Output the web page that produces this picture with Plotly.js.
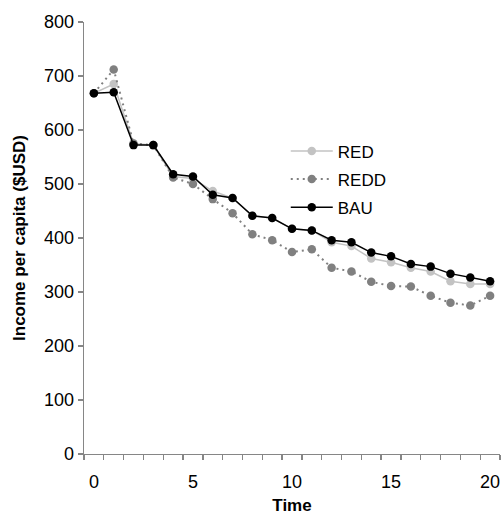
<!DOCTYPE html>
<html>
<head>
<meta charset="utf-8">
<script src="https://cdn.plot.ly/plotly-3.0.1.min.js"></script>
<style>html,body{margin:0;padding:0;background:#fff;}#chart{width:502px;height:518px;}</style>
</head>
<body>
<div id="chart"></div>
<script>
const time = [0,1,2,3,4,5,6,7,8,9,10,11,12,13,14,15,16,17,18,19,20];
const red  = [668,685,575,572,514,510,487,474,441,437,417,414,392,385,362,355,345,338,320,315,315];
const redd = [668,712,575,572,512,500,472,446,407,396,374,379,345,338,319,311,310,293,280,275,293];
const bau  = [668,670,572,572,518,514,480,474,441,437,417,414,396,392,373,366,352,347,334,327,320];
const xTickVals = [0,5,10,15,20];
const xTickText = ['0','5','10','15','20'];
const yTickVals = [0,100,200,300,400,500,600,700,800];

const traces = [
  {x: time, y: red, name: 'RED', legendgroup: 'a', mode: 'lines+markers',
   line: {color: '#c3c3c3', width: 1.5}, marker: {color: '#c3c3c3', size: 8.5}},
  {x: time, y: redd, name: 'REDD', legendgroup: 'b', mode: 'lines+markers',
   line: {color: '#808080', width: 2, dash: '2px,4px'}, marker: {color: '#808080', size: 8.5}},
  {x: time, y: bau, name: 'BAU', legendgroup: 'c', mode: 'lines+markers',
   line: {color: '#000000', width: 1.5}, marker: {color: '#000000', size: 8.5}}
];

const layout = {
  width: 502, height: 518,
  margin: {l: 84, r: 2, t: 22, b: 64},
  paper_bgcolor: '#fff', plot_bgcolor: '#fff',
  font: {family: 'Liberation Sans, Arial, sans-serif', color: '#000', size: 18},
  showlegend: true,
  legend: {x: 0.485, y: 0.742, xanchor: 'left', yanchor: 'top', font: {size: 17},
           bgcolor: 'rgba(0,0,0,0)', traceorder: 'grouped', tracegroupgap: 3, itemwidth: 42},
  xaxis: {
    range: [-0.5, 20.5], tickmode: 'array', tickvals: xTickVals, ticktext: xTickText,
    ticks: '', showgrid: false, zeroline: false, showline: true, ticklabelstandoff: 11,
    linecolor: '#868686', linewidth: 1.3, tickfont: {size: 18},
    minor: {ticks: 'outside', tick0: -0.5, dtick: 1, ticklen: 5, tickcolor: '#868686', tickwidth: 1.3, showgrid: false},
    title: {text: '<b>Time</b>', font: {size: 17}, standoff: 8}
  },
  yaxis: {
    range: [0, 800], tickmode: 'array', tickvals: yTickVals,
    ticks: 'outside', ticklen: 5, tickcolor: '#868686', tickwidth: 1.3,
    showgrid: false, zeroline: false, showline: true,
    linecolor: '#868686', linewidth: 1.3, tickfont: {size: 18},
    title: {text: '<b>Income per capita ($USD)</b>', font: {size: 17}, standoff: 14}
  }
};
Plotly.newPlot('chart', traces, layout, {displayModeBar: false, staticPlot: true});
</script>
</body>
</html>
